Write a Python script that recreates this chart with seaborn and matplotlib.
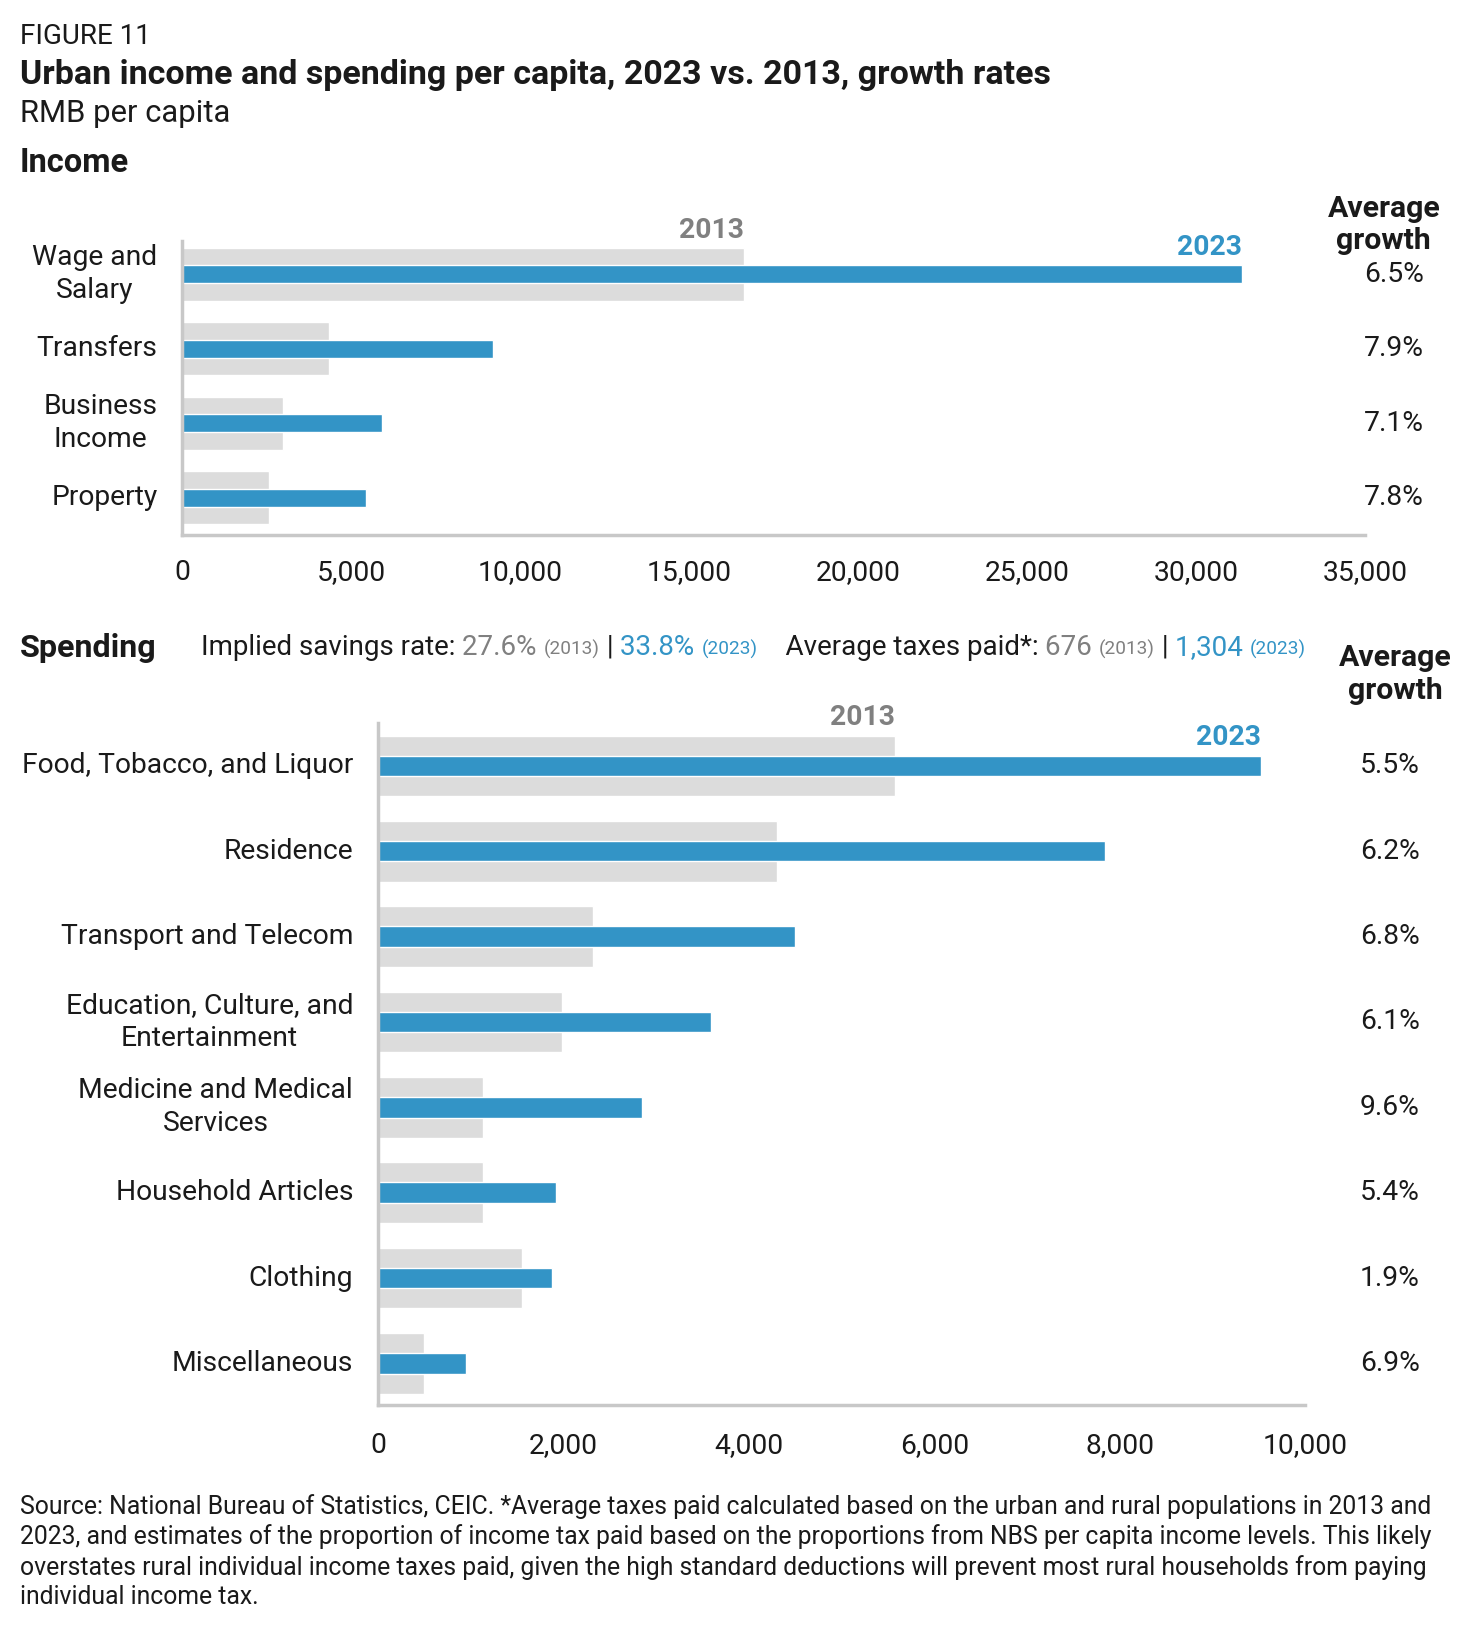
import pandas as pd
import seaborn as sns
import matplotlib.pyplot as plt
from matplotlib.transforms import blended_transform_factory

# income, RMB per capita
income_cats = ['Wage and\nSalary', 'Transfers', 'Business\nIncome', 'Property']
income_2013 = [16617, 4323, 2975, 2552]
income_2023 = [31350, 9200, 5910, 5420]
income_growth = ['6.5%', '7.9%', '7.1%', '7.8%']

# spending, RMB per capita
spend_cats = ['Food, Tobacco, and Liquor', 'Residence', 'Transport and Telecom',
              'Education, Culture, and\nEntertainment', 'Medicine and Medical\nServices',
              'Household Articles', 'Clothing', 'Miscellaneous']
spend_2013 = [5571, 4301, 2318, 1988, 1136, 1129, 1554, 499]
spend_2023 = [9520, 7840, 4500, 3590, 2850, 1920, 1880, 950]
spend_growth = ['5.5%', '6.2%', '6.8%', '6.1%', '9.6%', '5.4%', '1.9%', '6.9%']

income_ticks = [0, 5000, 10000, 15000, 20000, 25000, 30000, 35000]
spend_ticks = [0, 2000, 4000, 6000, 8000, 10000]

BLUE = '#3394c6'
LIGHT = '#dcdcdc'
GREYTXT = '#808080'
INK = '#1a1a1a'
SPINE = '#c8c8c8'
FS = 20.3

sns.set_style('white')
plt.rcParams['font.family'] = ['Roboto', 'DejaVu Sans']
plt.rcParams['text.color'] = INK

fig = plt.figure(figsize=(14.62, 16.35), dpi=100)
ax1 = fig.add_axes([0.1248, 0.6727, 0.809, 0.1801])
ax2 = fig.add_axes([0.2586, 0.1405, 0.6341, 0.4172])


def draw_panel(ax, cats, v13, v23, growth, ticks, ylim, gx, xpad):
    df = pd.DataFrame({'cat': cats, 'y2013': v13, 'y2023': v23})
    sns.barplot(data=df, x='y2013', y='cat', color=LIGHT, width=0.71,
                saturation=1, orient='h', ax=ax)
    sns.barplot(data=df, x='y2023', y='cat', color=BLUE, width=0.24,
                saturation=1, orient='h', ax=ax)
    ax.set_xlim(ticks[0], ticks[-1])
    ax.set_ylim(*ylim)
    ax.set_xticks(ticks)
    ax.set_xticklabels([f'{t:,}' for t in ticks])
    ax.set_yticks(range(len(cats)))
    ax.set_yticklabels(cats, multialignment='center', linespacing=1.3)
    for lbl in ax.get_yticklabels():
        lbl.set_verticalalignment('center')
    ax.set_xlabel('')
    ax.set_ylabel('')
    ax.tick_params(axis='x', length=0, pad=xpad, labelsize=FS, labelcolor=INK)
    ax.tick_params(axis='y', length=0, pad=18, labelsize=FS, labelcolor=INK)
    for s in ['top', 'right']:
        ax.spines[s].set_visible(False)
    for s in ['left', 'bottom']:
        ax.spines[s].set_color(SPINE)
        ax.spines[s].set_linewidth(2.5)
    # series labels at the end of the top bars
    ax.annotate('2013', (v13[0], -0.355), xytext=(0, 3), textcoords='offset points',
                ha='right', va='bottom', fontsize=FS, fontweight='bold', color=GREYTXT)
    ax.annotate('2023', (v23[0], -0.12), xytext=(0, 3), textcoords='offset points',
                ha='right', va='bottom', fontsize=FS, fontweight='bold', color=BLUE)
    tr = blended_transform_factory(fig.transFigure, ax.transData)
    for i, g in enumerate(growth):
        ax.text(gx, i, g, transform=tr, ha='center', va='center', fontsize=FS, color=INK)


draw_panel(ax1, income_cats, income_2013, income_2023, income_growth,
           income_ticks, (3.5, -0.45), 0.9535, 17)
draw_panel(ax2, spend_cats, spend_2013, spend_2023, spend_growth,
           spend_ticks, (7.49, -0.5), 0.9505, 19)

# headings
fig.text(0.0135, 0.9774, 'FIGURE 11', fontsize=20, va='center')
fig.text(0.0135, 0.9543, 'Urban income and spending per capita, 2023 vs. 2013, growth rates',
         fontsize=24.45, fontweight='bold', va='center')
fig.text(0.0135, 0.9308, 'RMB per capita', fontsize=22.3, va='center')
fig.text(0.0135, 0.9005, 'Income', fontsize=23.5, fontweight='bold', va='center')
fig.text(0.9465, 0.8623, 'Average\ngrowth', fontsize=21.8, fontweight='bold',
         ha='center', va='center', linespacing=1.2)
fig.text(0.9544, 0.5875, 'Average\ngrowth', fontsize=21.8, fontweight='bold',
         ha='center', va='center', linespacing=1.2)
fig.text(0.0135, 0.6035, 'Spending', fontsize=23.2, fontweight='bold', va='center')

# savings / taxes line
pieces = [
    ('Implied savings rate: ', INK, 20),
    ('27.6% ', GREYTXT, 20),
    ('(2013)', GREYTXT, 13.7),
    (' | ', INK, 20),
    ('33.8% ', BLUE, 20),
    ('(2023)', BLUE, 13.7),
    ('    Average taxes paid*: ', INK, 20),
    ('676 ', GREYTXT, 20),
    ('(2013)', GREYTXT, 13.7),
    (' | ', INK, 20),
    ('1,304 ', BLUE, 20),
    ('(2023)', BLUE, 13.7),
]
base_y = 0.5994
prev = fig.text(0.1376, base_y, pieces[0][0], color=pieces[0][1], fontsize=pieces[0][2],
                va='baseline')
for s, c, fs in pieces[1:]:
    prev = ax1.annotate(s, xy=(1, base_y), xycoords=(prev, 'figure fraction'),
                        color=c, fontsize=fs, va='baseline', ha='left',
                        annotation_clip=False)

note = ('Source: National Bureau of Statistics, CEIC. *Average taxes paid calculated based on the urban and rural populations in 2013 and\n'
        '2023, and estimates of the proportion of income tax paid based on the proportions from NBS per capita income levels. This likely\n'
        'overstates rural individual income taxes paid, given the high standard deductions will prevent most rural households from paying\n'
        'individual income tax.')
fig.text(0.0135, 0.0865, note, fontsize=17.8, va='top', linespacing=1.29)

fig.savefig('out.png', dpi=100)
